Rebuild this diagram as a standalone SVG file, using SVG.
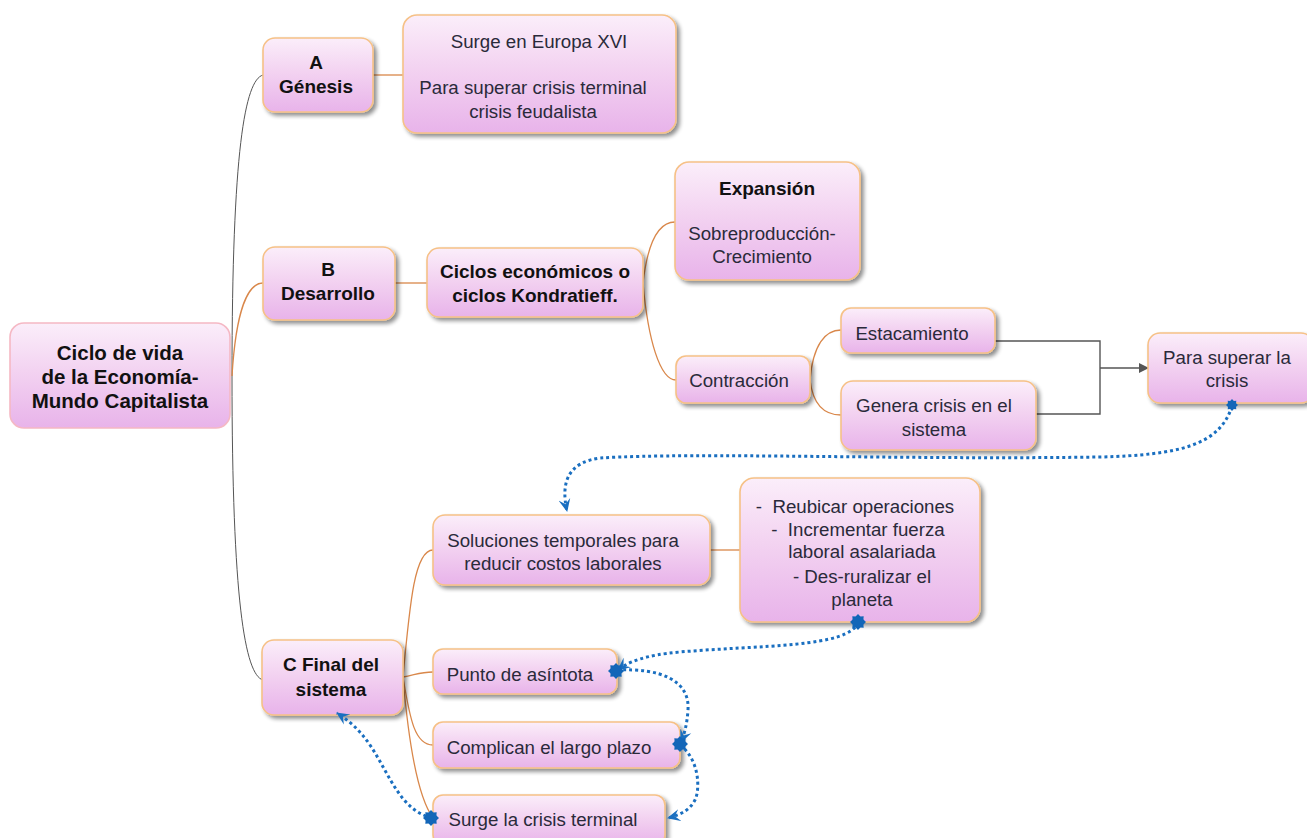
<svg xmlns="http://www.w3.org/2000/svg" width="1307" height="838" viewBox="0 0 1307 838">
<defs>
<linearGradient id="g" x1="0" y1="0" x2="0" y2="1">
<stop offset="0" stop-color="#fbeefa"/>
<stop offset="0.45" stop-color="#f3d3f1"/>
<stop offset="1" stop-color="#e8b3ea"/>
</linearGradient>
<filter id="sh" x="-10%" y="-10%" width="130%" height="140%">
<feGaussianBlur in="SourceAlpha" stdDeviation="2"/>
<feOffset dx="3" dy="3" result="b"/>
<feComponentTransfer><feFuncA type="linear" slope="0.45"/></feComponentTransfer>
<feMerge><feMergeNode/><feMergeNode in="SourceGraphic"/></feMerge>
</filter>
<marker id="arr" viewBox="0 0 10 10" refX="9" refY="5" markerWidth="10" markerHeight="10" markerUnits="userSpaceOnUse" orient="auto">
<path d="M0,0 L10,5 L0,10 z" fill="#555"/>
</marker>
<marker id="barr" viewBox="0 0 14 14" refX="12" refY="7" markerWidth="14" markerHeight="14" markerUnits="userSpaceOnUse" orient="auto">
<path d="M0,1 L13,7 L0,13 L5,7 z" fill="#1a6fc0"/>
</marker>
<g id="blob" fill="#1366b8">
<path d="M0,-8 L2.4,-5.4 L5.7,-5.7 L5.4,-2.4 L8,0 L5.4,2.4 L5.7,5.7 L2.4,5.4 L0,8 L-2.4,5.4 L-5.7,5.7 L-5.4,2.4 L-8,0 L-5.4,-2.4 L-5.7,-5.7 L-2.4,-5.4 z"/>
<circle r="5.8"/>
</g>
</defs>
<style>
.box{fill:url(#g);stroke:#f6c187;stroke-width:1.6;filter:url(#sh)}
.root{fill:url(#g);stroke:#f5b8c4;stroke-width:1.6}
.t{font-family:"Liberation Sans",Arial,sans-serif;font-size:18.7px;fill:#2a2a3a;text-anchor:middle}
.b{font-weight:bold;fill:#111;font-size:19px}
.r{font-size:20.5px}
.gl{fill:none;stroke:#555;stroke-width:1}
.ol{fill:none;stroke:#d9874a;stroke-width:1.3}
.el{fill:none;stroke:#555;stroke-width:1.4}
.bl{fill:none;stroke:#1a6fc0;stroke-width:3;stroke-dasharray:3 3}
</style>
<rect width="1307" height="838" fill="#fff"/>
<g id="connectors">
<path class="gl" d="M232,376 C232,150 245,80 263,75"/>
<path class="gl" d="M232,376 C232,600 245,675 263,680"/>
<path class="ol" d="M232,376 C236,310 248,283 263,283"/>
<path class="ol" d="M373,75 L403,75"/>
<path class="ol" d="M395,283 L427,283"/>
<path class="ol" d="M643,283 C648,240 660,222 675,222"/>
<path class="ol" d="M643,283 C648,340 660,380 676,380"/>
<path class="ol" d="M810,380 C813,345 825,330 841,330"/>
<path class="ol" d="M810,380 C813,405 825,415 841,415"/>
<path class="el" d="M995,341 L1100,341 L1100,414 L1036,414"/>
<path class="el" d="M1100,368 L1148,368" marker-end="url(#arr)"/>
<path class="ol" d="M710,550 L740,550"/>
<path class="ol" d="M403,677 C410,600 415,550 433,550"/>
<path class="ol" d="M403,677 C415,675 420,672 433,672"/>
<path class="ol" d="M403,677 C410,720 415,745 433,745"/>
<path class="ol" d="M403,677 C410,760 420,800 433,818"/>
</g>
<g id="root"><rect class="root" x="10" y="323" width="220" height="105" rx="14"/>
<text class="t b r" x="120" y="360">Ciclo de vida</text><text class="t b r" x="120" y="384">de la Economía-</text><text class="t b r" x="120" y="408">Mundo Capitalista</text></g>
<g id="genesis"><rect class="box" x="263" y="38" width="110" height="74" rx="12"/>
<text class="t b" x="316" y="69">A</text><text class="t b" x="316" y="93">Génesis</text></g>
<g id="surge"><rect class="box" x="403" y="15" width="273" height="118" rx="14"/>
<text class="t" x="539" y="48">Surge en Europa XVI</text><text class="t" x="533" y="94">Para superar crisis terminal</text><text class="t" x="533" y="118">crisis feudalista</text></g>
<g id="desarrollo"><rect class="box" x="263" y="247" width="132" height="73" rx="12"/>
<text class="t b" x="328" y="276">B</text><text class="t b" x="328" y="300">Desarrollo</text></g>
<g id="ciclos"><rect class="box" x="427" y="248" width="216" height="69" rx="12"/>
<text class="t b" x="535" y="278">Ciclos económicos o</text><text class="t b" x="535" y="302">ciclos Kondratieff.</text></g>
<g id="expansion"><rect class="box" x="675" y="162" width="185" height="118" rx="14"/>
<text class="t b" x="767" y="195">Expansión</text><text class="t" x="762" y="240">Sobreproducción-</text><text class="t" x="762" y="263">Crecimiento</text></g>
<g id="contraccion"><rect class="box" x="676" y="356" width="134" height="47" rx="10"/>
<text class="t" x="739" y="387">Contracción</text></g>
<g id="estacamiento"><rect class="box" x="841" y="308" width="154" height="45" rx="10"/>
<text class="t" x="912" y="340">Estacamiento</text></g>
<g id="genera"><rect class="box" x="841" y="381" width="195" height="69" rx="12"/>
<text class="t" x="934" y="412">Genera crisis en el</text><text class="t" x="934" y="436">sistema</text></g>
<g id="superar"><rect class="box" x="1148" y="333" width="165" height="70" rx="12"/>
<text class="t" x="1227" y="364">Para superar la</text><text class="t" x="1227" y="387">crisis</text></g>
<g id="soluciones"><rect class="box" x="433" y="515" width="277" height="70" rx="12"/>
<text class="t" x="563" y="547">Soluciones temporales para</text><text class="t" x="563" y="570">reducir costos laborales</text></g>
<g id="reubicar"><rect class="box" x="740" y="478" width="240" height="144" rx="14"/>
<text class="t" x="855" y="513" xml:space="preserve">-  Reubicar operaciones</text><text class="t" x="858" y="536" xml:space="preserve">-  Incrementar fuerza</text><text class="t" x="862" y="558">laboral asalariada</text><text class="t" x="862" y="583">- Des-ruralizar el</text><text class="t" x="862" y="606">planeta</text></g>
<g id="final"><rect class="box" x="262" y="640" width="141" height="75" rx="12"/>
<text class="t b" x="331" y="671">C Final del</text><text class="t b" x="331" y="696">sistema</text></g>
<g id="punto"><rect class="box" x="433" y="649" width="184" height="45" rx="10"/>
<text class="t" x="520" y="681">Punto de asíntota</text></g>
<g id="complican"><rect class="box" x="433" y="722" width="247" height="46" rx="10"/>
<text class="t" x="549" y="754">Complican el largo plazo</text></g>
<g id="crisisterminal"><rect class="box" x="433" y="795" width="232" height="50" rx="10"/>
<text class="t" x="543" y="826">Surge la crisis terminal</text></g>
<g id="relationships">
<path class="bl" d="M1232,406 C1220,445 1180,455 1100,457 C900,460 700,452 600,458 C570,462 560,480 567,511" marker-end="url(#barr)"/>
<path class="bl" d="M858,622 C850,648 760,645 680,652 C645,655 628,662 618,670" marker-end="url(#barr)"/>
<path class="bl" d="M617,670 C660,668 690,680 688,710 C687,725 684,735 681,742" marker-end="url(#barr)"/>
<path class="bl" d="M680,745 C700,760 700,790 695,800 C690,810 680,815 668,818" marker-end="url(#barr)"/>
<path class="bl" d="M432,818 C400,810 390,775 370,745 C360,730 348,720 337,713" marker-end="url(#barr)"/>
<use href="#blob" transform="translate(1232,405) scale(0.75)"/>
<use href="#blob" transform="translate(858,622)"/>
<use href="#blob" transform="translate(616,671)"/>
<use href="#blob" transform="translate(680,744)"/>
<use href="#blob" transform="translate(431,818)"/>
</g>
</svg>
